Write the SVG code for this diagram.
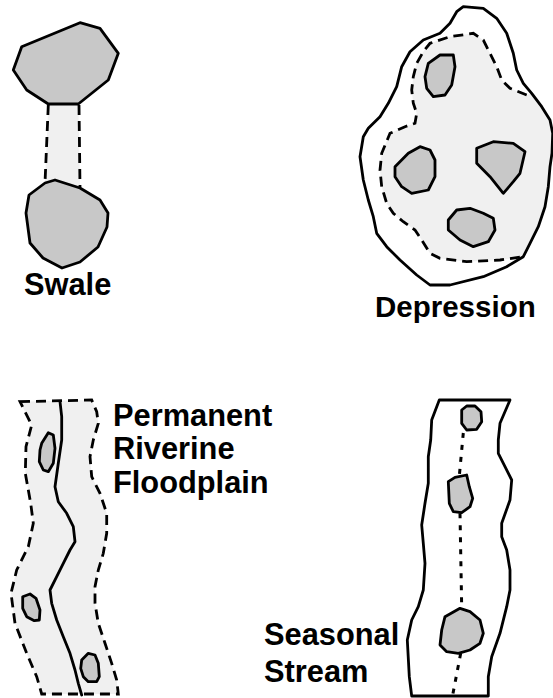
<svg xmlns="http://www.w3.org/2000/svg" width="553" height="698" viewBox="0 0 553 698">
<style>
.bg{fill:#ffffff}
.solid{fill:none;stroke:#000;stroke-width:2.8;stroke-linejoin:round;stroke-linecap:round}
.dash{fill:none;stroke:#000;stroke-width:2.8;stroke-dasharray:10 6}
.dot{fill:none;stroke:#000;stroke-width:3;stroke-dasharray:5 7}
.light{fill:#f0f0f0;stroke:none}
.island{fill:#c8c8c8;stroke:#000;stroke-width:2.8;stroke-linejoin:round}
.lbl{font-family:"Liberation Sans",Arial,sans-serif;font-weight:bold;font-size:30.8px;fill:#000}
</style>
<rect class="bg" x="0" y="0" width="553" height="698"/>

<g id="swale">
  <polygon class="light" points="48.3,104 78.3,104 80,187 45,183"/>
  <line class="dash" x1="48.3" y1="105" x2="45" y2="183"/>
  <line class="dash" x1="79" y1="105" x2="80" y2="187"/>
  <polygon class="island" points="21.7,46.7 80,22.7 100,28.3 118.3,53.3 108.3,80 78.3,104 48.3,104 26.7,90 13.3,70"/>
  <polygon class="island" points="45,183 55,180 80,188 100,200 108,213 107,227 98,247 80,262 62,268 43,258 30,243 26,213 29,195"/>
  <text class="lbl" x="24" y="295">Swale</text>
</g>

<g id="depression">
  <path class="light" d="M430,43.3 L450,36.7 473.3,33.3 483.3,40 490,53.3 496.7,66.7 501.7,80 510,88.3 526.7,95 L531.7,93.3 541.7,106.7 550,120 552.7,133.3 552,153.3 550,166.7 548.3,186.7 545,206.7 538.3,226.7 530,243.3 523.3,256.7 L500,260 466.7,261.7 440,258.3 430,253.3 421.7,240 415,230 403.3,221.7 393.3,213.3 386.7,203.3 381.7,186.7 380,170 381.7,153.3 390,133.3 405,126.7 415,123.3 416.7,113.3 413.3,103.3 411.7,90 413.3,76.7 416.7,63.3 423.3,51.7 Z"/>
  <path class="solid" d="M463.3,6.7 L483.3,8.3 496.7,18.3 506.7,33.3 513.3,53.3 516.7,70 523.3,83.3 531.7,93.3 541.7,106.7 550,120 552.7,133.3 552,153.3 550,166.7 548.3,186.7 545,206.7 538.3,226.7 530,243.3 523.3,256.7 506.7,266.7 483.3,276.7 450,285 430,285 416.7,275 400,260 386.7,246.7 376.7,233.3 373.3,216.7 368.3,200 363.3,180 360,156.7 363.3,136.7 368.3,128.3 380,116.7 388.3,103.3 396.7,86.7 401.7,66.7 410,51.7 423.3,40 440,33.3 450,23.3 456.7,11.7 Z"/>
  <path class="dash" d="M526.7,95 L510,88.3 501.7,80 496.7,66.7 490,53.3 483.3,40 473.3,33.3 450,36.7 430,43.3 423.3,51.7 416.7,63.3 413.3,76.7 411.7,90 413.3,103.3 416.7,113.3 415,123.3 405,126.7 390,133.3 381.7,153.3 380,170 381.7,186.7 386.7,203.3 393.3,213.3 403.3,221.7 415,230 421.7,240 430,253.3 440,258.3 466.7,261.7 500,260 523.3,256.7"/>
  <polygon class="island" points="428.3,63.3 440,55 453.3,55 455,66.7 451.7,85 445,95 433.3,96.7 426.7,88.3 425,76.7"/>
  <polygon class="island" points="395,166.7 408.3,153.3 420,146.7 430,150 435,160 435,176.7 428.3,190 411.7,193.3 401.7,186.7 395,176.7"/>
  <polygon class="island" points="476.7,148.3 493.3,141.7 513.3,143.3 525,151.7 520,173.3 513.3,181.7 503.3,193.3 490,176.7 476.7,163.3"/>
  <polygon class="island" points="448.3,220 456.7,210 470,208.3 483.3,213.3 493.3,218.3 495,230 488.3,241.7 473.3,246.7 460,240 448.3,230"/>
  <text class="lbl" x="375" y="317" style="font-size:29.5px">Depression</text>
</g>

<g id="floodplain">
  <path class="light" d="M20,401.7 L91.7,400 96.7,411.7 98.3,423.3 93.3,440 90,456.7 91.7,476.7 100,493.3 106.7,513.3 106.7,533.3 103.3,553.3 98.3,570 95,586.7 95,603.3 98.3,623.3 105,643.3 111.7,663.3 116.7,680 118.3,694 L41.7,694 36.7,676.7 26.7,653.3 15,623.3 11,593.3 16.7,570 28.3,546.7 33.3,523.3 30.7,503.3 25.3,473.3 26,446.7 31.7,425 Z"/>
  <path class="dash" d="M20,401.7 L91.7,400 96.7,411.7 98.3,423.3 93.3,440 90,456.7 91.7,476.7 100,493.3 106.7,513.3 106.7,533.3 103.3,553.3 98.3,570 95,586.7 95,603.3 98.3,623.3 105,643.3 111.7,663.3 116.7,680 118.3,694 L41.7,694 36.7,676.7 26.7,653.3 15,623.3 11,593.3 16.7,570 28.3,546.7 33.3,523.3 30.7,503.3 25.3,473.3 26,446.7 31.7,425 Z"/>
  <path class="solid" d="M60,401.7 L61.7,416.7 61.7,440 58.3,463.3 55,486.7 58.3,501.7 66.7,513.3 73.3,526.7 75,541.7 70,550 63.3,563.3 56.7,576.7 50,590 51.7,603.3 56.7,620 63.3,636.7 70,653.3 75,670 78.3,683.3 81.7,695"/>
  <polygon class="island" points="41.7,443.3 48.3,432.7 53.3,435 55,448.3 53.3,463.3 48.3,471.7 43.3,470 39.3,461.7 40,450"/>
  <polygon class="island" points="22.7,596.7 30,594 36,598.3 40,610 39.3,620 34.3,620.7 26.7,616.7 22.7,608.3"/>
  <polygon class="island" points="81.7,660 88.3,653.3 95,655 98.3,663.3 99.3,676.7 96.7,681.7 88.3,681.7 83.3,676.7 80.7,668.3"/>
  <text class="lbl" x="113" y="426">Permanent</text>
  <text class="lbl" x="113" y="459">Riverine</text>
  <text class="lbl" x="113" y="493">Floodplain</text>
</g>

<g id="stream">
  <path class="solid" d="M439.3,400 L510,400 500,423.3 498.3,440 498.3,453.3 505,466.7 511.7,480 510,500 501.7,523.3 501.7,536.7 506.7,550 510,570 510,590 506.7,606.7 500,633.3 491.7,656.7 488.3,676.7 488.3,696 L411.7,696 409.3,676.7 407.3,640 411.7,620 418.3,606.7 423.3,590 425,563.3 423.3,543.3 421.7,525 425,503.3 428.3,483.3 428.3,456.7 430.7,440 431.7,420 Z" fill="#ffffff"/>
  <path class="dot" d="M463.3,433 L459.3,476"/>
  <path class="dot" d="M460,513.3 L461.7,608"/>
  <path class="dot" d="M460.7,653.3 L452.7,695"/>
  <polygon class="island" points="461.7,410 466.7,406 475,406 481,411.7 481.7,421.7 476.7,429.3 466.7,430 461.7,423.3"/>
  <polygon class="island" points="448.3,481.7 455,477.3 466.7,475 469.3,486.7 472.7,498.3 470,506.7 461.7,512.7 453.3,511.7 449.3,503.3"/>
  <polygon class="island" points="445,616.7 460,608.3 470,611.7 480,620 483.3,633.3 480,643.3 470,650 458.3,653.3 446.7,651.7 440,645 441.7,630"/>
  <text class="lbl" x="264" y="645">Seasonal</text>
  <text class="lbl" x="264" y="682">Stream</text>
</g>
</svg>
